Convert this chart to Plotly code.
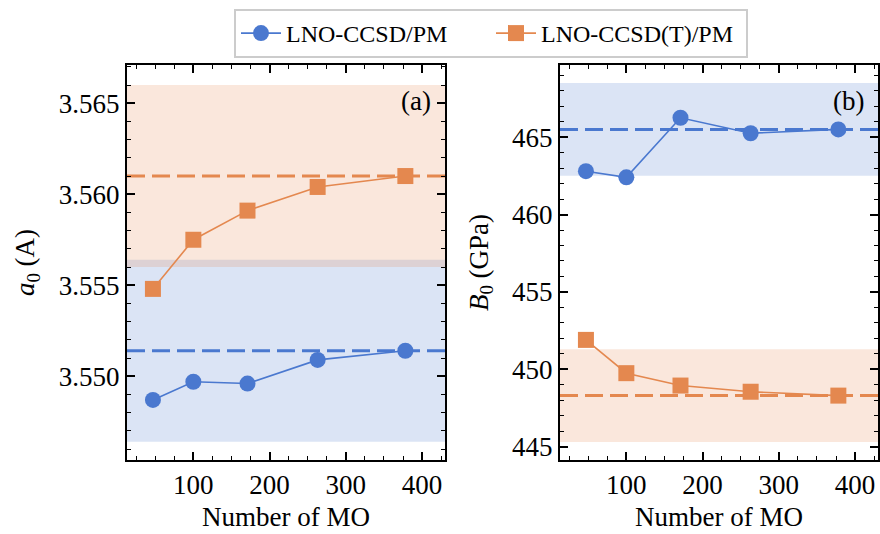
import plotly.graph_objects as go

# Number of molecular orbitals in each LNO calculation
n_mo = [47, 100, 171, 263, 378]

# Lattice constant a0 (Å)
a0_ccsd = [3.5487, 3.5497, 3.5496, 3.5509, 3.5514]
a0_ccsdt = [3.5548, 3.5575, 3.5591, 3.5604, 3.5610]
a0_ref = {"ccsd": 3.5514, "ccsdt": 3.5610}
a0_tol = 0.005

# Bulk modulus B0 (GPa)
b0_ccsd = [462.8, 462.4, 466.25, 465.25, 465.5]
b0_ccsdt = [451.9, 449.75, 448.95, 448.55, 448.3]
b0_ref = {"ccsd": 465.5, "ccsdt": 448.3}
b0_tol = 3.0

labels = {"ccsd": "LNO-CCSD/PM", "ccsdt": "LNO-CCSD(T)/PM"}
colors = {"ccsd": "#4A78CF", "ccsdt": "#E4884F"}
bands = {"ccsd": "rgba(74,120,207,0.2)", "ccsdt": "rgba(228,136,79,0.2)"}
symbols = {"ccsd": "circle", "ccsdt": "square"}

W, H = 880, 534
FONT = "Liberation Serif"
FS = 27

fig = go.Figure()

panels = [
    ("x", "y", {"ccsd": a0_ccsd, "ccsdt": a0_ccsdt}, a0_ref, a0_tol, True),
    ("x2", "y2", {"ccsd": b0_ccsd, "ccsdt": b0_ccsdt}, b0_ref, b0_tol, False),
]

shapes = []
for xa, ya, series, ref, tol, show in panels:
    for key in ["ccsd", "ccsdt"]:
        shapes.append(dict(type="rect", xref=f"{xa} domain", yref=ya,
                           x0=0, x1=1, y0=ref[key] - tol, y1=ref[key] + tol,
                           fillcolor=bands[key], line_width=0, layer="below"))
    for key in ["ccsd", "ccsdt"]:
        shapes.append(dict(type="line", xref=f"{xa} domain", yref=ya,
                           x0=0, x1=1, y0=ref[key], y1=ref[key],
                           line=dict(color=colors[key], width=3, dash="18px,7px"),
                           layer="below"))
    for key in ["ccsd", "ccsdt"]:
        fig.add_trace(go.Scatter(
            x=n_mo, y=series[key], xaxis=xa, yaxis=ya,
            mode="lines+markers", name=labels[key], showlegend=show,
            line=dict(color=colors[key], width=1.6),
            marker=dict(symbol=symbols[key], size=16, color=colors[key],
                        line=dict(width=0)),
        ))

axis_common = dict(
    showline=True, linecolor="black", linewidth=2, mirror="ticks",
    ticks="inside", ticklen=8, tickwidth=1.5, tickcolor="black",
    showgrid=False, zeroline=False, automargin=False,
    tickfont=dict(family=FONT, size=FS, color="black"),
)

xdom_a = [127 / W, 445 / W]
xdom_b = [560 / W, 878 / W]
ydom = [1 - 460 / H, 1 - 65 / H]

xaxis_common = dict(axis_common, range=[13, 430], dtick=100, tick0=0,
                    minor=dict(ticks="inside", ticklen=4, dtick=25, tick0=0,
                               tickcolor="black", tickwidth=1.2),
                    title=dict(text="Number of MO", font=dict(family=FONT, size=FS, color="black"),
                               standoff=8))

fig.update_layout(
    width=W, height=H,
    margin=dict(l=0, r=0, t=0, b=0),
    paper_bgcolor="white", plot_bgcolor="white",
    shapes=shapes,
    xaxis=dict(xaxis_common, domain=xdom_a, anchor="y"),
    xaxis2=dict(xaxis_common, domain=xdom_b, anchor="y2"),
    yaxis=dict(axis_common, domain=ydom, anchor="x",
               range=[3.5454, 3.5671], dtick=0.005, tick0=3.55, tickformat=".3f",
               minor=dict(ticks="inside", ticklen=4, dtick=0.001, tick0=3.55,
                          tickcolor="black", tickwidth=1.2),
               title=dict(text="<i>a</i><sub>0</sub> (A)",
                          font=dict(family=FONT, size=FS, color="black"), standoff=16)),
    yaxis2=dict(axis_common, domain=ydom, anchor="x2",
                range=[444.14, 469.66], dtick=5, tick0=445,
                minor=dict(ticks="inside", ticklen=4, dtick=1, tick0=445,
                           tickcolor="black", tickwidth=1.2),
                title=dict(text="<i>B</i><sub>0</sub> (GPa)",
                           font=dict(family=FONT, size=FS, color="black"), standoff=16)),
    legend=dict(orientation="h", x=491 / W, xanchor="center", y=1 - 9 / H, yanchor="top",
                font=dict(family=FONT, size=24, color="black"),
                bgcolor="white", bordercolor="#CCCCCC", borderwidth=2,
                itemwidth=40, entrywidth=200, entrywidthmode="pixels"),
    annotations=[
        dict(text="(a)", xref="x domain", yref="y domain", x=0.962, y=0.91,
             xanchor="right", yanchor="middle", showarrow=False,
             font=dict(family=FONT, size=FS, color="black")),
        dict(text="(b)", xref="x2 domain", yref="y2 domain", x=0.962, y=0.91,
             xanchor="right", yanchor="middle", showarrow=False,
             font=dict(family=FONT, size=FS, color="black")),
    ],
)

fig.write_html("out.html")
